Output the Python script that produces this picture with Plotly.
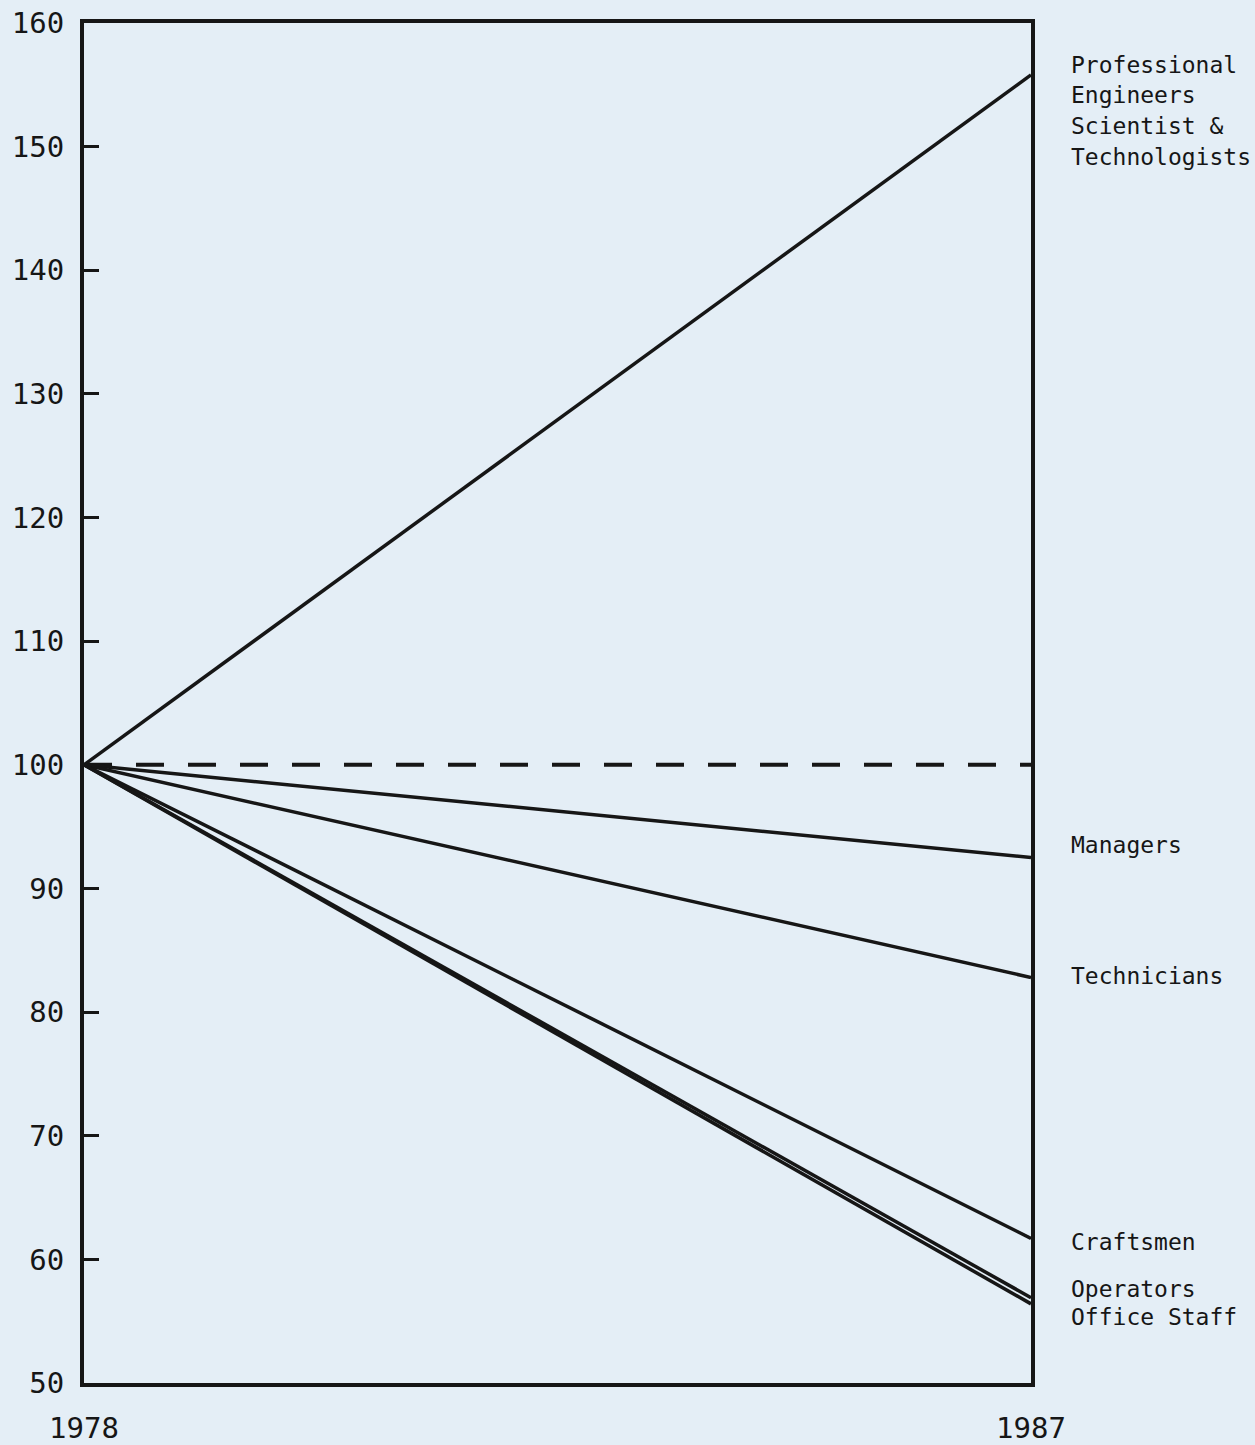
import plotly.graph_objects as go

years = [1978, 1987]
categories = ["Professional Engineers Scientist & Technologists", "Managers", "Technicians",
              "Craftsmen", "Operators", "Office Staff"]
start_values = [100, 100, 100, 100, 100, 100]
end_values = [155.8, 92.5, 82.8, 61.7, 56.9, 56.4]
baseline = [100, 100]
y_ticks = [50, 60, 70, 80, 90, 100, 110, 120, 130, 140, 150, 160]

FONT = "DejaVu Sans Mono"
INK = "#161616"
BG = "#e4eef6"

fig = go.Figure()
fig.add_trace(go.Scatter(x=years, y=baseline, mode="lines",
                         line=dict(color=INK, width=4, dash="28px,24px"),
                         showlegend=False, hoverinfo="skip"))
for name, s, e in zip(categories, start_values, end_values):
    fig.add_trace(go.Scatter(x=years, y=[s, e], mode="lines", name=name,
                             line=dict(color=INK, width=3.5), showlegend=False))

# right-hand labels (text lines, placed in plot coordinates)
label_lines = [
    ("Professional", 156.6), ("Engineers", 154.2), ("Scientist &", 151.7), ("Technologists", 149.2),
    ("Managers", 93.5), ("Technicians", 82.9),
    ("Craftsmen", 61.4), ("Operators", 57.6), ("Office Staff", 55.3),
]
for txt, yv in label_lines:
    fig.add_annotation(x=1.04, xref="paper", y=yv, yref="y", text=txt, showarrow=False,
                       xanchor="left", yanchor="middle",
                       font=dict(family=FONT, size=23, color=INK))

fig.update_layout(
    width=1255, height=1445,
    margin=dict(l=84, r=224, t=23, b=62),
    paper_bgcolor=BG, plot_bgcolor=BG,
    font=dict(family=FONT, color=INK),
)
fig.update_xaxes(range=[1978, 1987], tickvals=years, ticktext=[str(y) for y in years],
                 showgrid=False, zeroline=False, showline=True, linecolor=INK, linewidth=4,
                 mirror=True, ticks="", tickfont=dict(family=FONT, size=29, color=INK),
                 ticklabelstandoff=16, automargin=False)
fig.update_yaxes(range=[50, 160], tickvals=y_ticks, showgrid=False, zeroline=False,
                 showline=True, linecolor=INK, linewidth=4, mirror=True,
                 ticks="inside", ticklen=15, tickwidth=3, tickcolor=INK,
                 tickfont=dict(family=FONT, size=29, color=INK), ticklabelstandoff=10,
                 automargin=False)

fig.write_html("out.html", config={"displayModeBar": False},
               post_script="document.body.style.margin='0';document.body.style.background='%s';" % BG)
